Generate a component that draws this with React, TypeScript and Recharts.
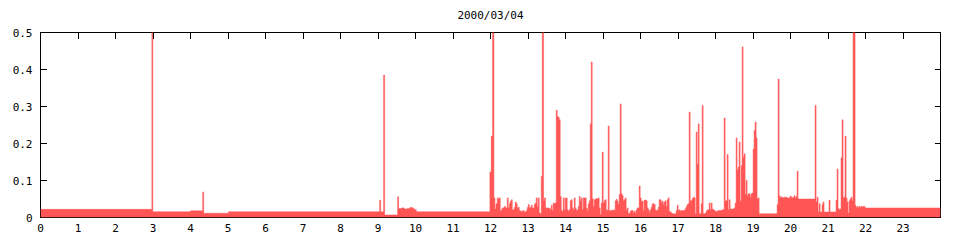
import React from 'react';
import { ComposedChart, Area, XAxis, YAxis } from 'recharts';

const TITLE = '2000/03/04';
const X_TICKS = [0, 1, 2, 3, 4, 5, 6, 7, 8, 9, 10, 11, 12, 13, 14, 15, 16, 17, 18, 19, 20, 21, 22, 23];
const Y_TICKS = [0, 0.1, 0.2, 0.3, 0.4, 0.5];
const Y_TICK_LABELS = ['0', '0.1', '0.2', '0.3', '0.4', '0.5'];

// breakpoints (hour of day) where the value changes; each value holds until the next time
const TIMES = [
  0, 2.97, 2.995, 4.0, 4.325, 4.352, 5.01, 9.043, 9.07, 9.15, 9.177, 9.523, 9.55, 9.63, 9.7, 9.78, 9.85, 9.92, 9.97, 10.02,
  11.984, 12.02, 12.055, 12.091, 12.118, 12.144, 12.18, 12.206, 12.233, 12.26, 12.286, 12.313, 12.366, 12.393, 12.42, 12.446,
  12.473, 12.5, 12.526, 12.553, 12.58, 12.633, 12.66, 12.686, 12.713, 12.74, 12.766, 12.793, 12.873, 12.899, 12.953, 12.979,
  13.006, 13.033, 13.086, 13.113, 13.166, 13.193, 13.219, 13.246, 13.273, 13.299, 13.326, 13.353, 13.379, 13.415, 13.441,
  13.468, 13.566, 13.592, 13.619, 13.646, 13.672, 13.699, 13.726, 13.752, 13.779, 13.806, 13.832, 13.859, 13.886, 13.912,
  13.939, 13.966, 13.992, 14.045, 14.072, 14.099, 14.125, 14.152, 14.179, 14.205, 14.232, 14.259, 14.285, 14.312, 14.339,
  14.365, 14.392, 14.419, 14.445, 14.472, 14.552, 14.579, 14.605, 14.632, 14.659, 14.685, 14.712, 14.738, 14.765, 14.792,
  14.818, 14.872, 14.898, 14.925, 14.952, 14.978, 15.005, 15.032, 15.058, 15.085, 15.112, 15.138, 15.165, 15.272, 15.298,
  15.325, 15.351, 15.378, 15.405, 15.431, 15.458, 15.485, 15.511, 15.538, 15.565, 15.591, 15.618, 15.645, 15.671, 15.698,
  15.725, 15.751, 15.805, 15.831, 15.858, 15.884, 15.911, 15.964, 15.991, 16.018, 16.071, 16.098, 16.151, 16.178, 16.204,
  16.231, 16.258, 16.284, 16.311, 16.364, 16.391, 16.418, 16.471, 16.498, 16.551, 16.577, 16.604, 16.631, 16.657, 16.684,
  16.711, 16.737, 16.764, 16.791, 16.817, 16.844, 16.951, 16.977, 17.004, 17.031, 17.057, 17.084, 17.191, 17.217, 17.244,
  17.27, 17.297, 17.324, 17.377, 17.404, 17.43, 17.457, 17.484, 17.51, 17.537, 17.564, 17.617, 17.644, 17.67, 17.724, 17.75,
  17.777, 17.83, 17.857, 17.883, 17.91, 17.937, 17.963, 17.99, 18.07, 18.177, 18.23, 18.257, 18.31, 18.337, 18.363, 18.39,
  18.496, 18.523, 18.55, 18.576, 18.603, 18.63, 18.656, 18.683, 18.71, 18.736, 18.763, 18.79, 18.816, 18.843, 18.87, 18.923,
  18.949, 18.976, 19.003, 19.029, 19.056, 19.083, 19.109, 19.136, 19.163, 19.643, 19.669, 19.696, 19.723, 19.802, 19.829,
  19.909, 19.989, 20.016, 20.042, 20.069, 20.096, 20.122, 20.149, 20.176, 20.202, 20.655, 20.682, 20.709, 20.735, 20.762,
  20.789, 20.842, 20.869, 20.895, 21.028, 21.055, 21.215, 21.242, 21.268, 21.295, 21.322, 21.348, 21.375, 21.402, 21.428,
  21.455, 21.482, 21.508, 21.535, 21.562, 21.588, 21.615, 21.642, 21.668, 21.722, 21.748, 21.775, 21.802, 21.828, 21.855,
  21.882, 21.988, 24,
];

const VALUES = [
  0.022, 0.5, 0.0155, 0.018, 0.069, 0.0115, 0.0155, 0.047, 0.0155, 0.385, 0.0068, 0.056, 0.024, 0.026, 0.023, 0.024, 0.027, 0.024, 0.021, 0.0155,
  0.123, 0.22, 0.5, 0.053, 0.023, 0.037, 0.053, 0.05, 0.053, 0.017, 0.021, 0.026, 0.03, 0.027, 0.026, 0.053,
  0.026, 0.037, 0.044, 0.048, 0.021, 0.028, 0.042, 0.037, 0.026, 0.028, 0.019, 0.017, 0.019, 0.015, 0.019, 0.027,
  0.035, 0.027, 0.033, 0.026, 0.035, 0.039, 0.053, 0.03, 0.053, 0.012, 0.01, 0.111, 0.5, 0.045, 0.053,
  0.026, 0.024, 0.021, 0.033, 0.019, 0.039, 0.037, 0.039, 0.29, 0.273, 0.271, 0.264, 0.057, 0.019, 0.017,
  0.053, 0.021, 0.053, 0.021, 0.017, 0.021, 0.045, 0.048, 0.026, 0.021, 0.053, 0.026, 0.019, 0.021, 0.03,
  0.057, 0.045, 0.053, 0.021, 0.053, 0.026, 0.019, 0.037, 0.045, 0.253, 0.42, 0.051, 0.03, 0.048, 0.05,
  0.051, 0.053, 0.026, 0.008, 0.039, 0.177, 0.039, 0.045, 0.048, 0.019, 0.021, 0.247, 0.019, 0.021, 0.019,
  0.045, 0.049, 0.044, 0.035, 0.062, 0.307, 0.064, 0.059, 0.045, 0.048, 0.053, 0.019, 0.026, 0.01, 0.012,
  0.017, 0.019, 0.012, 0.017, 0.012, 0.021, 0.026, 0.085, 0.053, 0.044, 0.019, 0.047, 0.045, 0.026, 0.021,
  0.014, 0.021, 0.028, 0.037, 0.035, 0.021, 0.019, 0.027, 0.048, 0.039, 0.044, 0.035, 0.042, 0.045, 0.03,
  0.048, 0.053, 0.017, 0.015, 0.012, 0.01, 0.019, 0.033, 0.019, 0.021, 0.017, 0.019, 0.024, 0.03, 0.035,
  0.037, 0.285, 0.045, 0.051, 0.055, 0.053, 0.01, 0.231, 0.143, 0.253, 0.01, 0.037, 0.303, 0.01, 0.012, 0.017,
  0.021, 0.039, 0.021, 0.039, 0.023, 0.021, 0.019, 0.017, 0.019, 0.021, 0.269, 0.045, 0.17, 0.021, 0.048, 0.023,
  0.026, 0.039, 0.215, 0.129, 0.136, 0.204, 0.044, 0.14, 0.461, 0.163, 0.172, 0.062, 0.1, 0.059, 0.064, 0.055,
  0.064, 0.066, 0.185, 0.235, 0.258, 0.215, 0.05, 0.053, 0.01, 0.035, 0.374, 0.059, 0.055, 0.053, 0.055,
  0.053, 0.058, 0.055, 0.053, 0.055, 0.059, 0.053, 0.057, 0.125, 0.05, 0.303, 0.042, 0.055, 0.015, 0.037,
  0.015, 0.035, 0.042, 0.015, 0.047, 0.015, 0.047, 0.131, 0.024, 0.021, 0.023, 0.161, 0.264, 0.053, 0.055,
  0.22, 0.053, 0.042, 0.012, 0.045, 0.05, 0.055, 0.045, 0.5, 0.033, 0.027, 0.03, 0.027, 0.03, 0.027,
  0.03, 0.0257, 0.0257,
];

const data = TIMES.map((t, i) => ({ t, v: VALUES[i] }));

const W = 960;
const H = 240;
const LEFT = 40.5;
const RIGHT = 940.5;
const TOP = 32.5;
const BOTTOM = 217.5;
const FILL = '#ff5555';
const FONT = '"DejaVu Sans Mono", "Liberation Mono", monospace';

function XTick(props: any) {
  const { x, payload } = props;
  return (
    <g>
      {payload.value !== 0 && (
        <line x1={x} x2={x} y1={TOP} y2={TOP + 6} stroke="#000" strokeWidth={1} shapeRendering="crispEdges" />
      )}
      <text x={x} y={BOTTOM + 14.5} textAnchor="middle" fontFamily={FONT} fontSize={11} fill="#000">
        {String(payload.value)}
      </text>
    </g>
  );
}

function YTick(props: any) {
  const { y, payload, index } = props;
  const label = Y_TICK_LABELS[index] ?? String(payload.value);
  const showLines = payload.value !== 0 && payload.value !== 0.5;
  return (
    <g>
      {showLines && (
        <line x1={LEFT} x2={LEFT + 6} y1={y} y2={y} stroke="#000" strokeWidth={1} shapeRendering="crispEdges" />
      )}
      {showLines && (
        <line x1={RIGHT - 6} x2={RIGHT} y1={y} y2={y} stroke="#000" strokeWidth={1} shapeRendering="crispEdges" />
      )}
      <text x={LEFT - 8} y={y + 4} textAnchor="end" fontFamily={FONT} fontSize={11} fill="#000">
        {label}
      </text>
    </g>
  );
}

export default function App() {
  return (
    <div style={{ position: 'absolute', left: 0, top: 0, width: W, height: H, background: '#fff' }}>
      {/* plot frame underneath the chart, so the fill covers it like in the reference */}
      <svg width={W} height={H} style={{ position: 'absolute', left: 0, top: 0 }}>
        <rect
          x={LEFT}
          y={TOP}
          width={RIGHT - LEFT}
          height={BOTTOM - TOP}
          fill="none"
          stroke="#000"
          strokeWidth={1}
          shapeRendering="crispEdges"
        />
        <text x={(LEFT + RIGHT) / 2} y={19} textAnchor="middle" fontFamily={FONT} fontSize={11} fill="#000">
          {TITLE}
        </text>
      </svg>
      <div style={{ position: 'absolute', left: 0, top: 0, width: W, height: H }}>
        <ComposedChart
          width={W}
          height={H}
          data={data}
          margin={{ top: TOP, right: W - RIGHT, bottom: 0, left: 0 }}
        >
          <XAxis
            dataKey="t"
            type="number"
            domain={[0, 24]}
            ticks={X_TICKS}
            interval={0}
            height={H - BOTTOM}
            axisLine={false}
            tickLine={false}
            tick={XTick}
            allowDataOverflow
          />
          <YAxis
            type="number"
            domain={[0, 0.5]}
            ticks={Y_TICKS}
            interval={0}
            width={LEFT}
            axisLine={false}
            tickLine={false}
            tick={YTick}
            allowDataOverflow
          />
          <Area
            type="stepAfter"
            dataKey="v"
            fill={FILL}
            fillOpacity={1}
            stroke={FILL}
            strokeWidth={0.5}
            dot={false}
            activeDot={false}
            isAnimationActive={false}
            baseValue={0}
          />
        </ComposedChart>
      </div>
    </div>
  );
}
